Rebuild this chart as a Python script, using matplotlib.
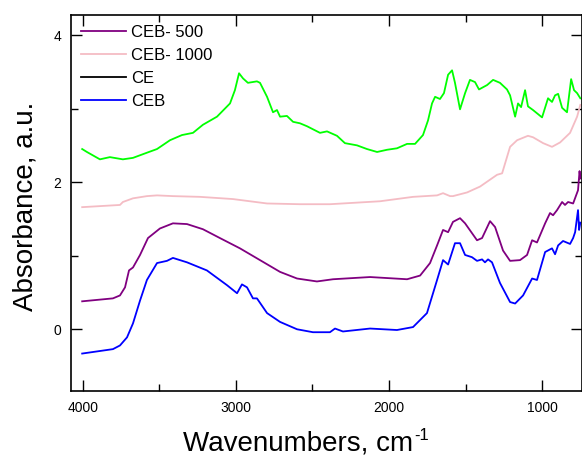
import matplotlib
matplotlib.use("Agg")
import matplotlib.pyplot as plt
from matplotlib.lines import Line2D
import numpy as np

plt.rcParams['font.family'] = ['Liberation Sans', 'DejaVu Sans']

# spectra (wavenumber, absorbance)
ce_wn = [4005, 3974, 3889, 3824, 3739, 3673, 3582, 3516, 3431, 3353, 3281, 3216,
         3124, 3039, 3007, 2980, 2954, 2922, 2863, 2843, 2797, 2758, 2732, 2712,
         2667, 2627, 2582, 2536, 2451, 2405, 2340, 2288, 2209, 2144, 2078, 2013,
         1948, 1882, 1830, 1778, 1745, 1719, 1699, 1667, 1641, 1614, 1588, 1569,
         1536, 1503, 1471, 1438, 1412, 1359, 1320, 1275, 1229, 1209, 1176, 1157,
         1137, 1111, 1092, 1059, 1000, 961, 935, 915, 895, 869, 837, 810, 791,
         771, 750]
ce_ab = [2.45, 2.41, 2.31, 2.34, 2.31, 2.33, 2.40, 2.45, 2.57, 2.64, 2.67, 2.78,
         2.89, 3.07, 3.25, 3.48, 3.41, 3.35, 3.37, 3.35, 3.16, 2.95, 2.98, 2.89,
         2.90, 2.82, 2.80, 2.76, 2.67, 2.69, 2.63, 2.53, 2.50, 2.45, 2.41, 2.44,
         2.46, 2.52, 2.52, 2.64, 2.84, 3.07, 3.16, 3.13, 3.21, 3.46, 3.52, 3.35,
         2.99, 3.21, 3.39, 3.36, 3.26, 3.32, 3.39, 3.35, 3.26, 3.18, 2.89, 3.07,
         3.02, 3.25, 3.03, 2.98, 2.88, 3.14, 3.09, 3.18, 3.20, 3.01, 2.95, 3.40,
         3.25, 3.21, 3.14]

ceb1000_wn = [4005, 3758, 3739, 3673, 3582, 3516, 3412, 3235, 3020, 2797, 2582,
              2386, 2059, 1843, 1686, 1647, 1601, 1582, 1490, 1405, 1294, 1261,
              1209, 1163, 1092, 1059, 993, 935, 882, 817, 771, 750]
ceb1000_ab = [1.66, 1.69, 1.73, 1.78, 1.81, 1.82, 1.81, 1.80, 1.77, 1.71, 1.70,
              1.70, 1.74, 1.80, 1.82, 1.85, 1.81, 1.81, 1.86, 1.94, 2.10, 2.12,
              2.48, 2.57, 2.63, 2.61, 2.53, 2.48, 2.54, 2.67, 2.89, 3.05]

ceb500_wn = [4005, 3804, 3758, 3725, 3699, 3673, 3627, 3575, 3497, 3412, 3320,
             3216, 3105, 2974, 2843, 2712, 2601, 2471, 2366, 2124, 1882, 1797,
             1732, 1686, 1647, 1614, 1582, 1536, 1503, 1425, 1392, 1340, 1307,
             1255, 1209, 1144, 1098, 1065, 1033, 980, 948, 928, 902, 869, 850,
             830, 797, 765, 755, 750]
ceb500_ab = [0.38, 0.42, 0.46, 0.57, 0.80, 0.84, 1.01, 1.24, 1.37, 1.44, 1.43,
             1.36, 1.24, 1.10, 0.94, 0.78, 0.69, 0.65, 0.68, 0.71, 0.68, 0.73,
             0.90, 1.14, 1.35, 1.32, 1.46, 1.51, 1.44, 1.21, 1.24, 1.47, 1.39,
             1.07, 0.93, 0.94, 1.01, 1.21, 1.18, 1.44, 1.58, 1.55, 1.62, 1.73,
             1.69, 1.73, 1.71, 1.89, 2.15, 2.05]

ceb_wn = [4005, 3804, 3758, 3712, 3673, 3627, 3582, 3516, 3451, 3412, 3320, 3190,
          3059, 2993, 2961, 2928, 2889, 2863, 2797, 2712, 2601, 2497, 2386, 2353,
          2301, 2124, 1948, 1843, 1752, 1686, 1647, 1614, 1569, 1536, 1503, 1458,
          1425, 1392, 1373, 1353, 1327, 1275, 1209, 1176, 1124, 1065, 1033, 980,
          935, 915, 895, 863, 817, 797, 784, 765, 758, 750]
ceb_ab = [-0.33, -0.27, -0.22, -0.11, 0.08, 0.39, 0.67, 0.90, 0.93, 0.97, 0.91,
          0.80, 0.60, 0.49, 0.61, 0.57, 0.42, 0.42, 0.22, 0.10, 0.00, -0.04,
          -0.04, 0.01, -0.03, 0.01, -0.01, 0.03, 0.22, 0.67, 0.94, 0.88, 1.17,
          1.17, 1.01, 0.98, 0.93, 0.95, 0.91, 0.95, 0.91, 0.63, 0.37, 0.35, 0.46,
          0.69, 0.67, 1.05, 1.10, 1.02, 1.14, 1.20, 1.16, 1.24, 1.32, 1.62, 1.35,
          1.45]

legend_labels = ['CEB- 500', 'CEB- 1000', 'CE', 'CEB']
legend_colors = ['#800080', '#f4bcc4', 'black', '#0000ff']

fig = plt.figure(figsize=(5.82, 4.59), dpi=100)
ax = fig.add_axes([0.122, 0.148, 0.878, 0.819])

ax.plot(ce_wn, ce_ab, color='#00ff00', lw=1.3)
ax.plot(ceb1000_wn, ceb1000_ab, color='#f4bcc4', lw=1.3)
ax.plot(ceb500_wn, ceb500_ab, color='#800080', lw=1.3)
ax.plot(ceb_wn, ceb_ab, color='#0000ff', lw=1.3)

ax.set_xlim(4078, 739)
ax.set_ylim(-0.84, 4.27)
ax.set_xticks([4000, 3000, 2000, 1000])
ax.set_xticks([3500, 2500, 1500], minor=True)
ax.set_yticks([0, 2, 4])
ax.set_yticks([1, 3], minor=True)
ax.tick_params(which='both', direction='in', top=True, right=True,
               labelsize=10, width=1)
ax.tick_params(which='major', length=8, pad=7)
ax.tick_params(which='minor', length=5)
for s in ax.spines.values():
    s.set_linewidth(1.2)

# x label with a plain "-1" superscript, as in the original
ax.set_xlabel('Wavenumbers, cm', fontsize=20)
ax.xaxis.set_label_coords(0.445, -0.105)
fig.canvas.draw()
bb = ax.xaxis.label.get_window_extent()
fig.text((bb.x1 + 1) / fig.bbox.width, (bb.y1 + 3) / fig.bbox.height, '-1',
         fontsize=12, ha='left', va='top')

ax.set_ylabel('Absorbance, a.u.', fontsize=20)
ax.yaxis.set_label_coords(-0.064, 0.49)

handles = [Line2D([], [], color=c, lw=1.3) for c in legend_colors]
ax.legend(handles, legend_labels, loc='upper left',
          frameon=False, fontsize=12, handlelength=2.7, handletextpad=0.3,
          labelspacing=0.48, borderaxespad=0.2, bbox_to_anchor=(0.0, 1.0))

fig.savefig('out.png', dpi=100)
